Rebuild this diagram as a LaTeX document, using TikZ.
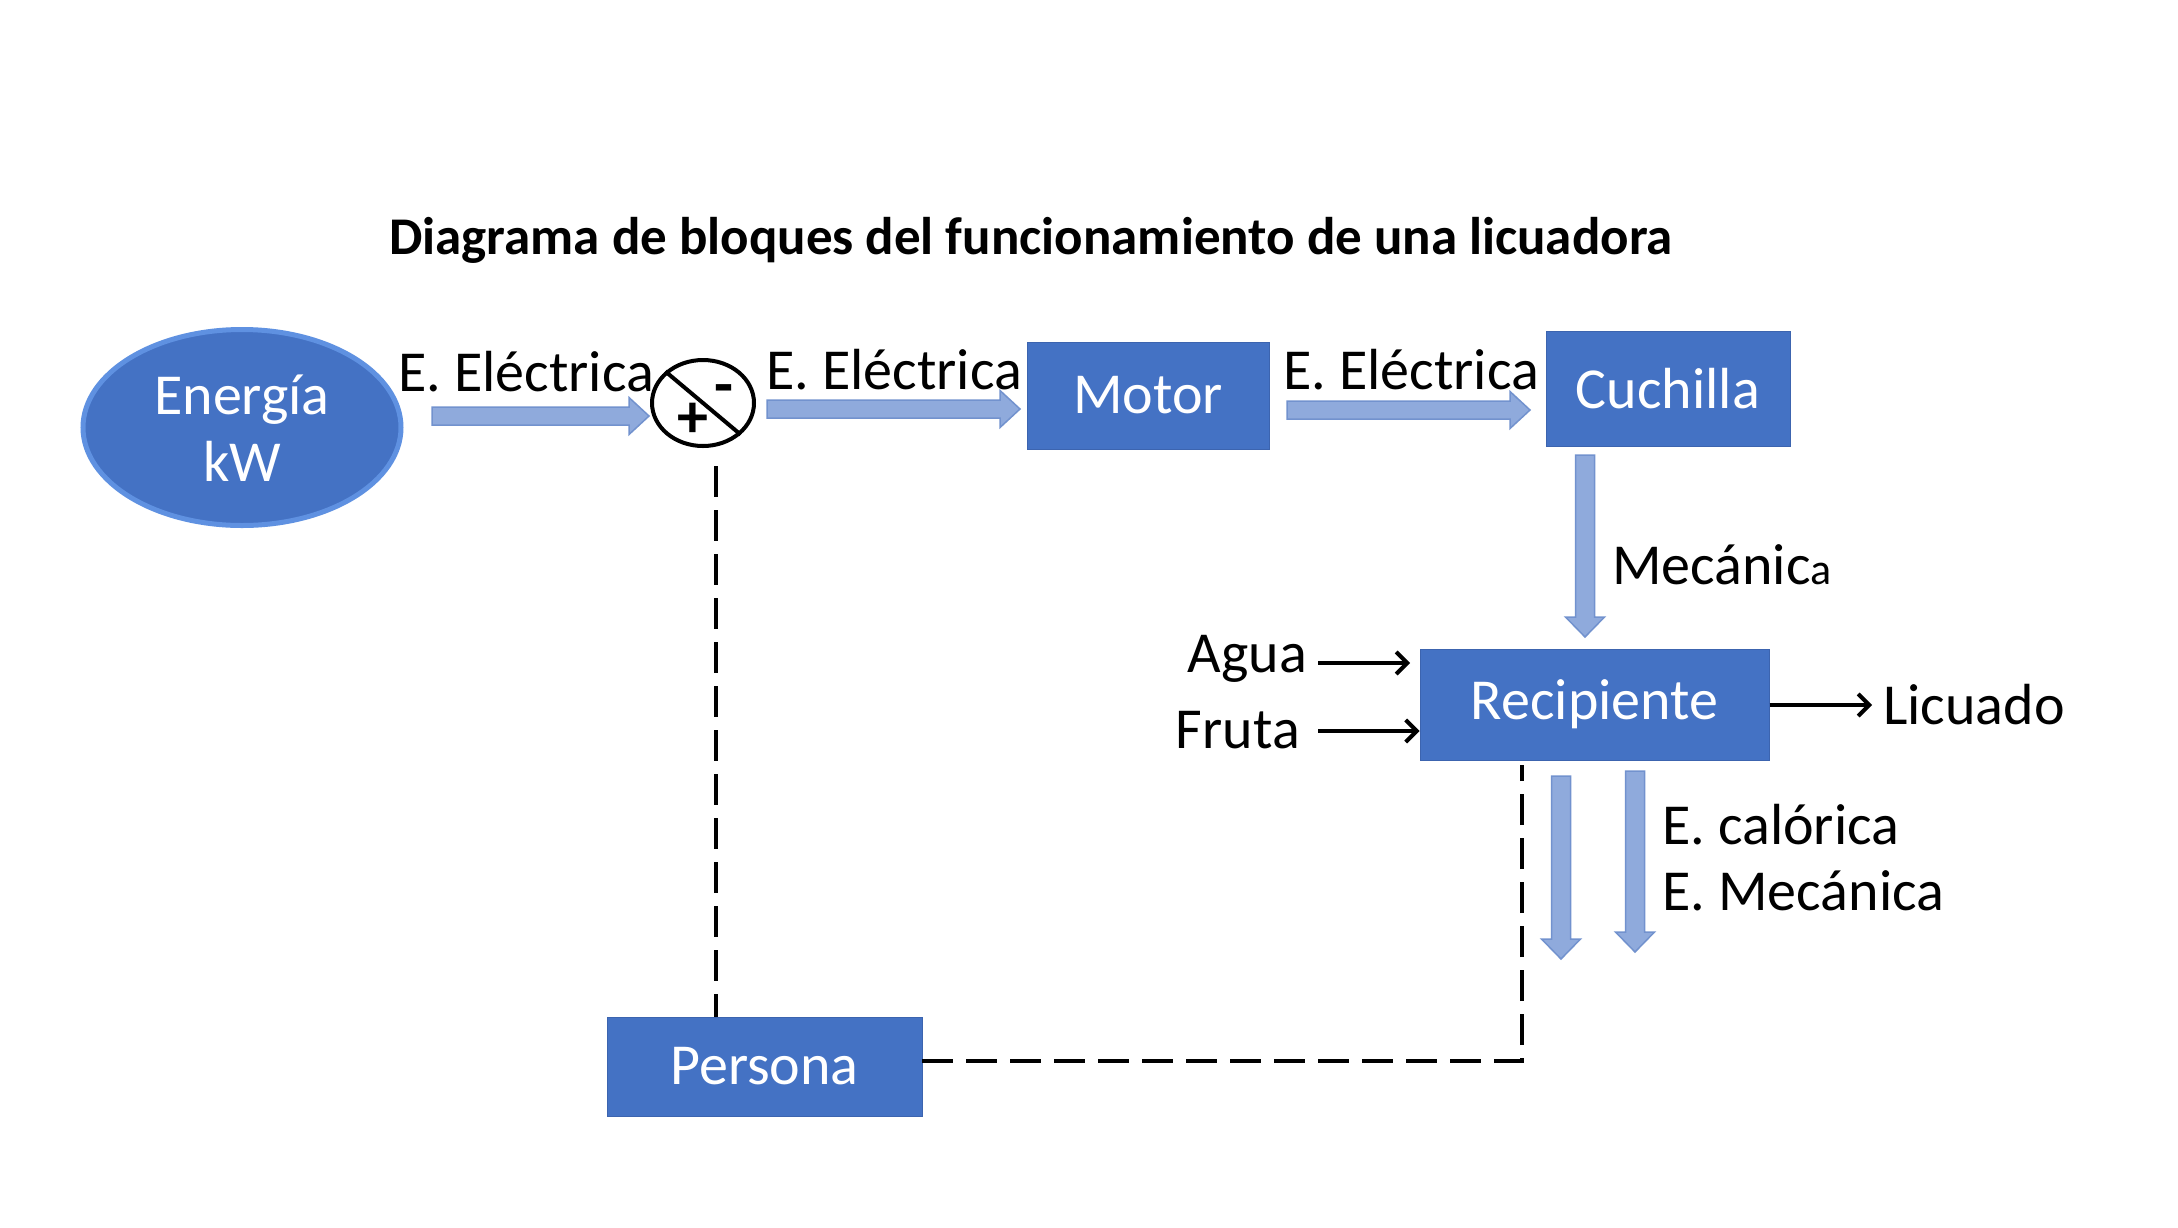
\documentclass[tikz,border=0pt]{standalone}
\usepackage{fontspec}
\setmainfont{Carlito}
\usetikzlibrary{calc,arrows.meta,shapes.geometric}
\definecolor{boxblue}{RGB}{68,114,196}
\definecolor{boxedge}{RGB}{60,100,175}
\definecolor{arrfill}{RGB}{143,170,220}
\definecolor{arredge}{RGB}{114,146,206}
\definecolor{ringblue}{RGB}{95,145,225}
\newcommand\bigf{\fontsize{58}{67}\selectfont}
\newcommand\harrow[2]{\filldraw[blockarr] ($(#1)+(0,-9)$) -- ($(#2)+(-20,-9)$) -- ($(#2)+(-20,-18.5)$) -- (#2) -- ($(#2)+(-20,18.5)$) -- ($(#2)+(-20,9)$) -- ($(#1)+(0,9)$) -- cycle;}
\newcommand\varrow[2]{\filldraw[blockarr] ($(#1)+(-9.5,0)$) -- ($(#2)+(-9.5,-20)$) -- ($(#2)+(-19.5,-20)$) -- (#2) -- ($(#2)+(19.5,-20)$) -- ($(#2)+(9.5,-20)$) -- ($(#1)+(9.5,0)$) -- cycle;}
\begin{document}
\begin{tikzpicture}[x=1pt,y=-1pt,
  blockarr/.style={fill=arrfill,draw=arredge,line width=1.5pt},
  blk/.style={fill=boxblue,draw=boxedge,line width=1pt,text=white,font=\bigf,inner sep=0},
  lbl/.style={font=\bigf,inner sep=0,anchor=base west},
  thinarr/.style={line width=4pt,-{Straight Barb[length=11pt,width=22pt,line width=4pt]}},
  dashline/.style={line width=4pt,dash pattern=on 31pt off 13pt}]
\fill[white] (0,0) rectangle (2178,1227);
\useasboundingbox (0,0) rectangle (2178,1227);

% title
\node[inner sep=0,anchor=base west,font=\fontsize{53}{62}\selectfont\bfseries] (title) at (389,254) {Diagrama de bloques del funcionamiento de una licuadora};

% energy ellipse
\node[ellipse,fill=boxblue,draw=ringblue,line width=5pt,minimum width=318pt,minimum height=196pt,inner sep=0] (energia) at (242,427.5) {};
\node[text=white,align=center,font=\bigf,inner sep=0] (energiatxt) at (242,428) {Energía\\kW};

% summing junction
\node[ellipse,draw,line width=4pt,minimum width=102pt,minimum height=86pt,inner sep=0] (sum) at (703,403) {};
\draw[line width=4pt] (sum.140) -- (sum.-40);
\node[font=\fontsize{62}{70}\selectfont\bfseries,inner sep=0] (plus) at (693,420) {+};
\node[font=\fontsize{62}{70}\selectfont\bfseries,inner sep=0] (minus) at (724,395) {-};

% blocks
\node[blk,minimum width=242pt,minimum height=107pt] (motor) at (1148,395.5) {Motor};
\node[blk,minimum width=244pt,minimum height=115pt] (cuchilla) at (1668,388.5) {Cuchilla};
\node[blk,minimum width=349pt,minimum height=111pt] (recip) at (1594.5,704.5) {\raisebox{-5pt}{Recipiente}};
\node[blk,minimum width=315pt,minimum height=99pt] (persona) at (764.5,1066.5) {Persona};

% block arrows
\coordinate (a1s) at (432,416); \coordinate (a1e) at (649,416);
\coordinate (a2s) at (767,409); \coordinate (a2e) at (1020,409);
\coordinate (a3s) at (1287,410); \coordinate (a3e) at (1530,410);
\coordinate (v1s) at (1585,455); \coordinate (v1e) at (1585,637);
\coordinate (v2s) at (1561,776); \coordinate (v2e) at (1561,959);
\coordinate (v3s) at (1635,771); \coordinate (v3e) at (1635,952);
\harrow{a1s}{a1e}
\harrow{a2s}{a2e}
\harrow{a3s}{a3e}
\varrow{v1s}{v1e}
\varrow{v2s}{v2e}
\varrow{v3s}{v3e}

% labels
\node[lbl] (l1) at (398,391) {E. Eléctrica};
\node[lbl] (l2) at (766,389) {E. Eléctrica};
\node[lbl] (l3) at (1283,389) {E. Eléctrica};
\node[lbl] (mec) at (1612,584) {Mecánic{\fontsize{44}{50}\selectfont a}};
\node[lbl] (cal) at (1662,844) {E. calórica};
\node[lbl] (emec) at (1662,910) {E. Mecánica};
\node[font=\bigf,inner sep=0,anchor=base east] (agua) at (1307,672) {Agua};
\node[font=\bigf,inner sep=0,anchor=base east] (fruta) at (1300,748) {Fruta};
\node[lbl] (licuado) at (1883,724) {Licuado};

% thin arrows
\coordinate (ag1) at (1318,663); \coordinate (ag2) at (1410,663);
\coordinate (fr1) at (1318,731);
\coordinate (li2) at (1872,705);
\draw[thinarr] (ag1) -- (ag2);
\draw[thinarr] (fr1) -- (fr1 -| recip.west);
\draw[thinarr] (li2 -| recip.east) -- (li2);

% dashed feedback
\coordinate (d1) at (716,466);
\coordinate (d2) at (1522,765);
\coordinate (d3) at (922,1061);
\draw[dashline] (d1) -- (d1 |- persona.north);
\draw[dashline] (d3) -| (d2);
\end{tikzpicture}
\end{document}
